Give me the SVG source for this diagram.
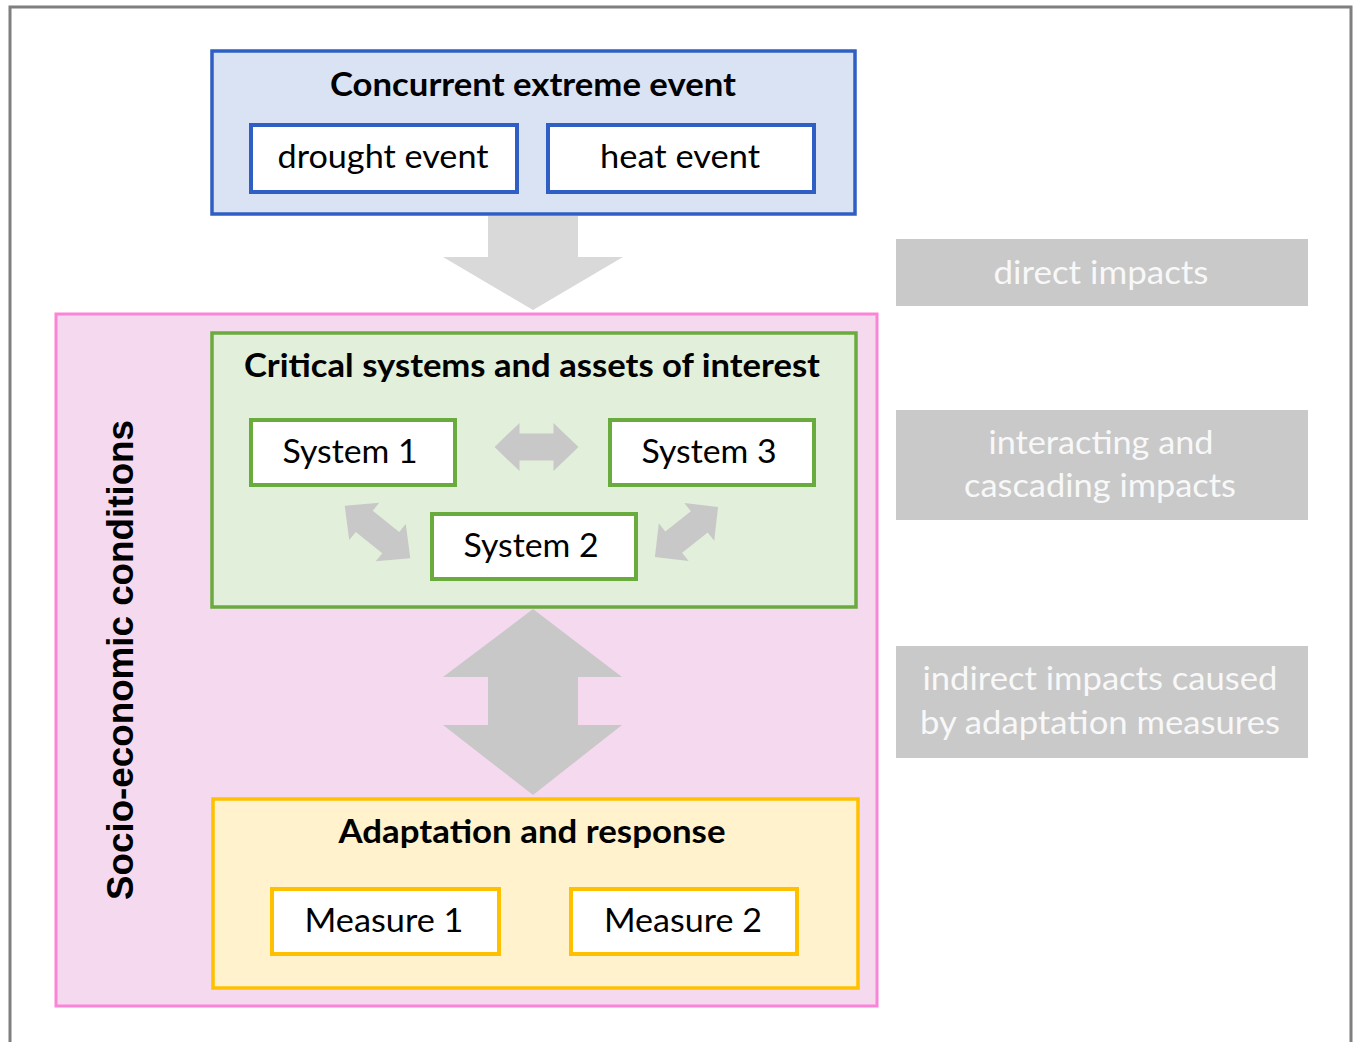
<svg xmlns="http://www.w3.org/2000/svg" xmlns:xlink="http://www.w3.org/1999/xlink" width="1354" height="1042" viewBox="0 0 1354 1042">
<defs>
<style>
.t{font-family:Lato,"Open Sans","Noto Sans",sans-serif;fill:#000;}
.b{font-weight:bold;}
.lbl{font-family:Lato,"Open Sans","Noto Sans",sans-serif;fill:#f8f8f8;font-size:33px;}
.arr{fill:#c8c8c8;}
.blueIn{fill:#fff;stroke:#2f5fc4;stroke-width:4;}
.greenIn{fill:#fff;stroke:#6aab3e;stroke-width:4;}
.yelIn{fill:#fff;stroke:#ffc000;stroke-width:4;}
.side{fill:#c9c9c9;}
</style>
<path id="dbl" d="M-42,0 L-17,-24 L-17,-13.5 L17,-13.5 L17,-24 L42,0 L17,24 L17,13.5 L-17,13.5 L-17,24 Z"/>
</defs>
<rect x="0" y="0" width="1354" height="1042" fill="#fff"/>
<path d="M10,1042 V7 H1351 V1042" fill="none" stroke="#7f7f7f" stroke-width="3"/>

<g id="event">
<rect x="212" y="51" width="643" height="163" fill="#dae3f3" stroke="#2f5fc4" stroke-width="3.5"/>
<text class="t b" x="533" y="96" font-size="32" text-anchor="middle" textLength="406" lengthAdjust="spacingAndGlyphs">Concurrent extreme event</text>
</g>
<g id="drought">
<rect class="blueIn" x="251" y="125" width="266" height="67"/>
<text class="t" x="383" y="168" font-size="33" text-anchor="middle" textLength="211" lengthAdjust="spacingAndGlyphs">drought event</text>
</g>
<g id="heat">
<rect class="blueIn" x="548" y="125" width="266" height="67"/>
<text class="t" x="680" y="168" font-size="33" text-anchor="middle" textLength="160" lengthAdjust="spacingAndGlyphs">heat event</text>
</g>

<g id="socio">
<rect x="56" y="314" width="821" height="692" fill="#f5d9ef" stroke="#fb84d6" stroke-width="3"/>
<text transform="translate(133,660) rotate(-90)" x="0" y="0" font-family="'Liberation Sans',Arial,sans-serif" font-weight="bold" font-size="36" text-anchor="middle" textLength="480" lengthAdjust="spacingAndGlyphs" fill="#000">Socio-economic conditions</text>
</g>

<g id="critical">
<rect x="212" y="333" width="644" height="274" fill="#e2efda" stroke="#6aab3e" stroke-width="3.5"/>
<text class="t b" x="532" y="377" font-size="32" text-anchor="middle" textLength="576" lengthAdjust="spacingAndGlyphs">Critical systems and assets of interest</text>
</g>
<g id="system1">
<rect class="greenIn" x="251" y="420" width="204" height="65"/>
<text class="t" x="350" y="463" font-size="33" text-anchor="middle" textLength="135" lengthAdjust="spacingAndGlyphs">System 1</text>
</g>
<g id="system3">
<rect class="greenIn" x="610" y="420" width="204" height="65"/>
<text class="t" x="709" y="463" font-size="33" text-anchor="middle" textLength="135" lengthAdjust="spacingAndGlyphs">System 3</text>
</g>
<g id="system2">
<rect class="greenIn" x="432" y="514" width="204" height="65"/>
<text class="t" x="531" y="557" font-size="33" text-anchor="middle" textLength="135" lengthAdjust="spacingAndGlyphs">System 2</text>
</g>

<g id="adaptation">
<rect x="213" y="799" width="645" height="189" fill="#fff2cc" stroke="#ffc000" stroke-width="3.5"/>
<text class="t b" x="532" y="843" font-size="32" text-anchor="middle" textLength="387" lengthAdjust="spacingAndGlyphs">Adaptation and response</text>
</g>
<g id="measure1">
<rect class="yelIn" x="272" y="889" width="227" height="65"/>
<text class="t" x="384" y="932" font-size="33" text-anchor="middle" textLength="159" lengthAdjust="spacingAndGlyphs">Measure 1</text>
</g>
<g id="measure2">
<rect class="yelIn" x="571" y="889" width="226" height="65"/>
<text class="t" x="683" y="932" font-size="33" text-anchor="middle" textLength="158" lengthAdjust="spacingAndGlyphs">Measure 2</text>
</g>

<g id="connectors">
<polygon points="488,216 578,216 578,257 623,257 533,310 443,257 488,257" fill="#d9d9d9"/>
<polygon class="arr" points="533,609 622,677 578,677 578,725 622,725 533,795 443,725 488,725 488,677 443,677"/>
<use xlink:href="#dbl" href="#dbl" class="arr" transform="translate(536.5,447)"/>
<use xlink:href="#dbl" href="#dbl" class="arr" transform="translate(377.5,532) rotate(38.7)"/>
<use xlink:href="#dbl" href="#dbl" class="arr" transform="translate(686.5,532) rotate(-38.4) scale(0.96,1)"/>
</g>

<g id="direct">
<rect class="side" x="896" y="239" width="412" height="67"/>
<text class="lbl" x="1101" y="284" text-anchor="middle" textLength="215" lengthAdjust="spacingAndGlyphs">direct impacts</text>
</g>
<g id="interacting">
<rect class="side" x="896" y="410" width="412" height="110"/>
<text class="lbl" x="1101" y="454" text-anchor="middle" textLength="225" lengthAdjust="spacingAndGlyphs">interacting and</text>
<text class="lbl" x="1100" y="497" text-anchor="middle" textLength="272" lengthAdjust="spacingAndGlyphs">cascading impacts</text>
</g>
<g id="indirect">
<rect class="side" x="896" y="646" width="412" height="112"/>
<text class="lbl" x="1100" y="690" text-anchor="middle" textLength="355" lengthAdjust="spacingAndGlyphs">indirect impacts caused</text>
<text class="lbl" x="1100" y="734" text-anchor="middle" textLength="360" lengthAdjust="spacingAndGlyphs">by adaptation measures</text>
</g>
</svg>
